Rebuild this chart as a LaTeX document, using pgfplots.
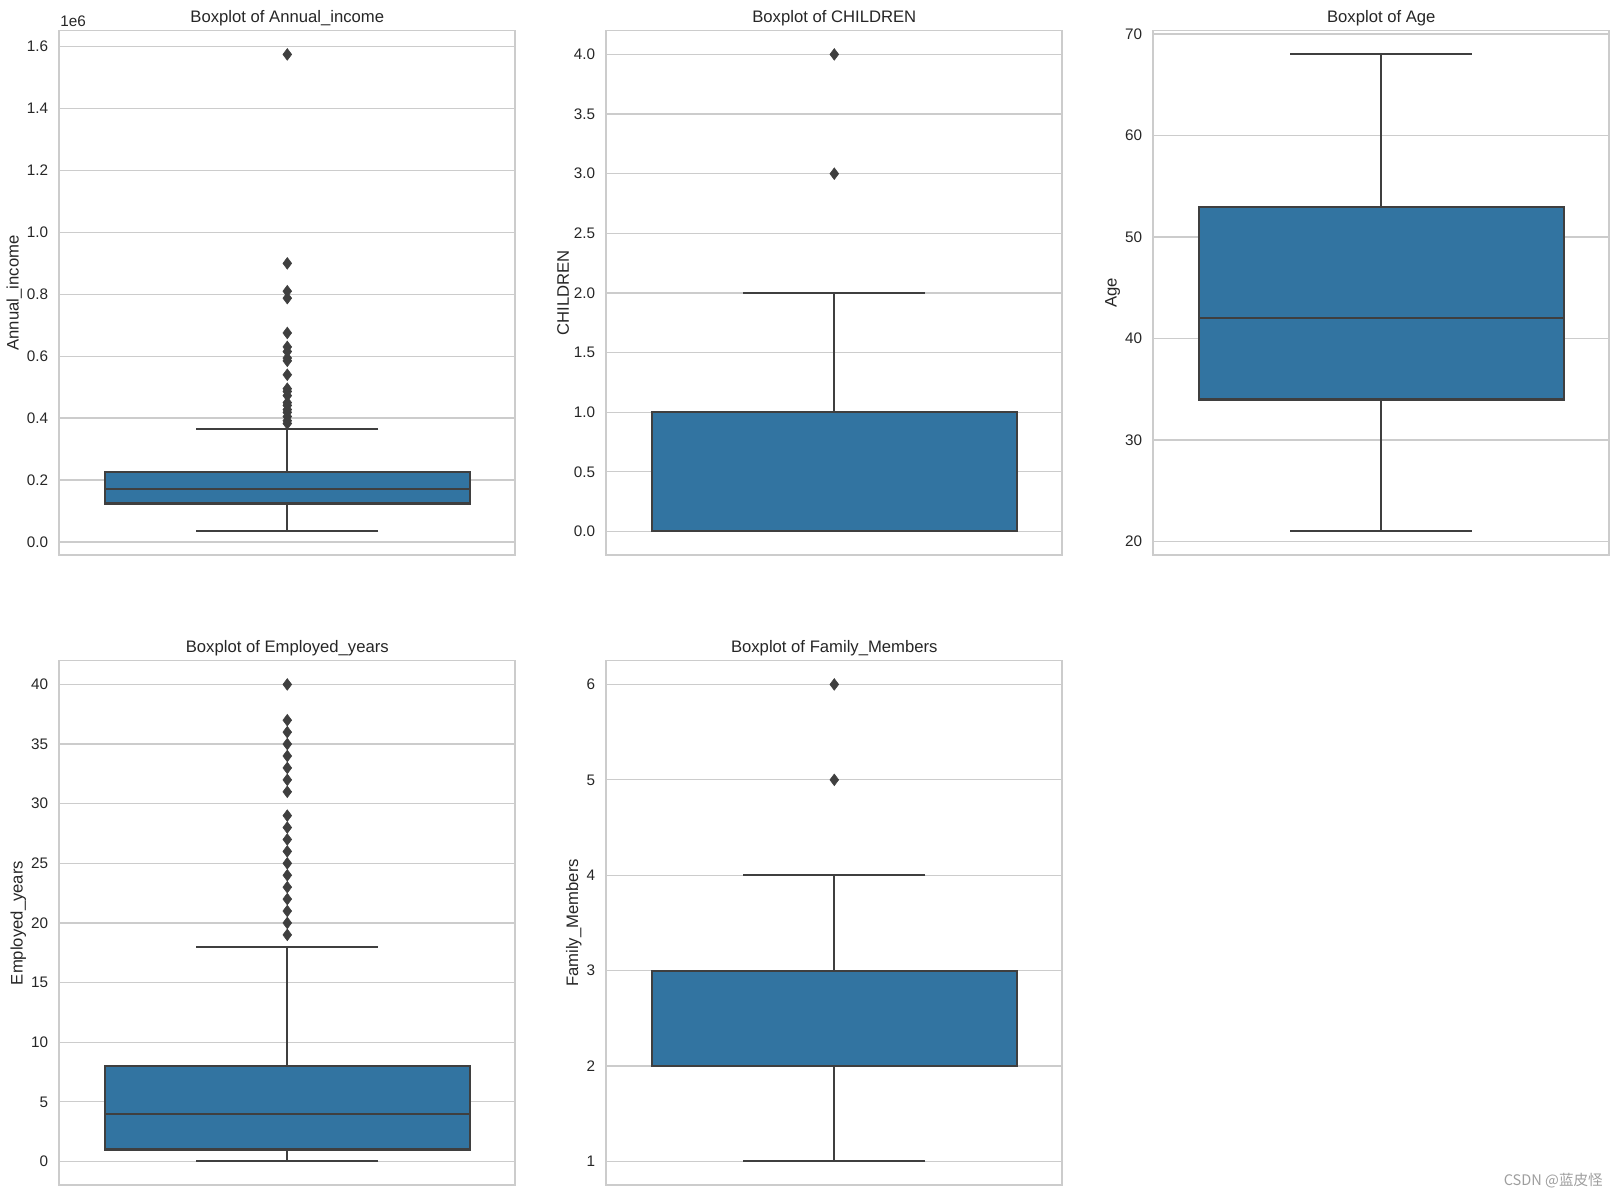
\documentclass[border=0pt]{standalone}
\usepackage{pgfplots}
\pgfplotsset{compat=1.18}
\usepgfplotslibrary{statistics}
\usepackage{fontspec}
\setmainfont{Liberation Sans}
\newfontfamily\cjk{Noto Sans CJK SC}
\definecolor{gridc}{HTML}{CCCCCC}
\definecolor{textc}{HTML}{262626}
\definecolor{boxc}{HTML}{3274A1}
\definecolor{linec}{HTML}{3F3F3F}
\definecolor{wmc}{HTML}{9E9E9E}
\pgfplotsset{
  sb/.style={
    scale only axis, width=328.3pt, height=377.8pt, anchor=south west,
    xmin=-0.5, xmax=0.5, xtick=\empty,
    axis line style={draw=gridc, line width=1.25pt},
    ymajorgrids, grid style={draw=gridc, line width=0.9pt},
    major tick length=0pt,
    /pgf/number format/assume math mode=true,
    tick label style={font=\fontsize{11}{13}\selectfont, color=textc},
    yticklabel style={inner sep=0pt, xshift=-7.9pt},
    label style={font=\fontsize{12}{14}\selectfont, color=textc},
    every axis title/.style={at={(0.5,1)}, anchor=base, yshift=6pt, inner sep=0pt, font=\fontsize{12}{14}\selectfont, color=textc},
    scaled y ticks=false,
    clip=false,
  },
  bx/.style={boxplot prepared={#1, draw direction=y, draw position=0, box extend=0.8, whisker extend=0.4},
    draw=linec, fill=boxc, line width=1.5pt, solid, mark=diamond*, mark size=4.2pt,
    mark options={solid, fill=linec, draw=linec, line width=0.4pt}},
  ln/.style={draw=linec, line width=1.5pt, solid, mark=none},
}
\begin{document}
\begin{tikzpicture}
\useasboundingbox (0,0) rectangle (1164.96pt,860.4pt);
% Annual_income (values in units of 1e6)
\begin{axis}[sb, at={(42.7pt,460.58pt)}, ymin=-0.0433125, ymax=1.6520625,
  ytick={0,0.2,0.4,0.6,0.8,1.0,1.2,1.4,1.6},
  yticklabel style={/pgf/number format/.cd, fixed, fixed zerofill, precision=1},
  title={Boxplot of Annual\_income}, ylabel={Annual\_income}]
\addplot[bx={lower whisker=0.03375, lower quartile=0.124, median=0.171, upper quartile=0.225, upper whisker=0.3645}]
  table[row sep=\\, y index=0] {1.575\\ 0.9\\ 0.81\\ 0.7875\\ 0.675\\ 0.63\\ 0.615\\ 0.594\\ 0.585\\ 0.54\\ 0.495\\ 0.486\\ 0.4725\\ 0.45\\ 0.441\\ 0.4275\\ 0.4185\\ 0.405\\ 0.3915\\ 0.3825\\};
\end{axis}
% CHILDREN
\begin{axis}[sb, at={(436.54pt,460.58pt)}, ymin=-0.2, ymax=4.2,
  ytick={0,0.5,1,1.5,2,2.5,3,3.5,4},
  yticklabel style={/pgf/number format/.cd, fixed, fixed zerofill, precision=1},
  title={Boxplot of CHILDREN}, ylabel={CHILDREN}]
\addplot[bx={lower whisker=0, lower quartile=0, median=0, upper quartile=1, upper whisker=2}]
  table[row sep=\\, y index=0] {3\\ 4\\};
\end{axis}
% Age (no outliers: box drawn from its five values)
\begin{axis}[sb, at={(830.38pt,460.58pt)}, ymin=18.65, ymax=70.35,
  ytick={20,30,40,50,60,70},
  title={Boxplot of Age}, ylabel={Age}]
\addplot[ln] coordinates {(0,53) (0,68)};
\addplot[ln] coordinates {(-0.2,68) (0.2,68)};
\addplot[ln] coordinates {(0,34) (0,21)};
\addplot[ln] coordinates {(-0.2,21) (0.2,21)};
\addplot[ln, fill=boxc, line join=miter] coordinates {(-0.4,34) (0.4,34) (0.4,53) (-0.4,53) (-0.4,34)} -- cycle;
\addplot[ln] coordinates {(-0.4,42) (0.4,42)};
\end{axis}
% Employed_years
\begin{axis}[sb, at={(42.7pt,6.98pt)}, ymin=-2, ymax=42,
  ytick={0,5,10,15,20,25,30,35,40},
  title={Boxplot of Employed\_years}, ylabel={Employed\_years}]
\addplot[bx={lower whisker=0, lower quartile=1, median=4, upper quartile=8, upper whisker=18}]
  table[row sep=\\, y index=0] {40\\ 37\\ 36\\ 35\\ 34\\ 33\\ 32\\ 31\\ 29\\ 28\\ 27\\ 26\\ 25\\ 24\\ 23\\ 22\\ 21\\ 20\\ 19\\};
\end{axis}
% Family_Members
\begin{axis}[sb, at={(436.54pt,6.98pt)}, ymin=0.75, ymax=6.25,
  ytick={1,2,3,4,5,6},
  title={Boxplot of Family\_Members}, ylabel={Family\_Members}]
\addplot[bx={lower whisker=1, lower quartile=2, median=2, upper quartile=3, upper whisker=4}]
  table[row sep=\\, y index=0] {5\\ 6\\};
\end{axis}
\node[anchor=base west, inner sep=0pt, font=\fontsize{11}{13}\selectfont, text=textc] at (43.2pt,841.2pt) {1e6};
\node[anchor=base east, inner sep=0pt, font=\fontsize{10.5}{12}\selectfont, text=wmc] at (1154.2pt,6.8pt) {\cjk CSDN @蓝皮怪};
\end{tikzpicture}
\end{document}
